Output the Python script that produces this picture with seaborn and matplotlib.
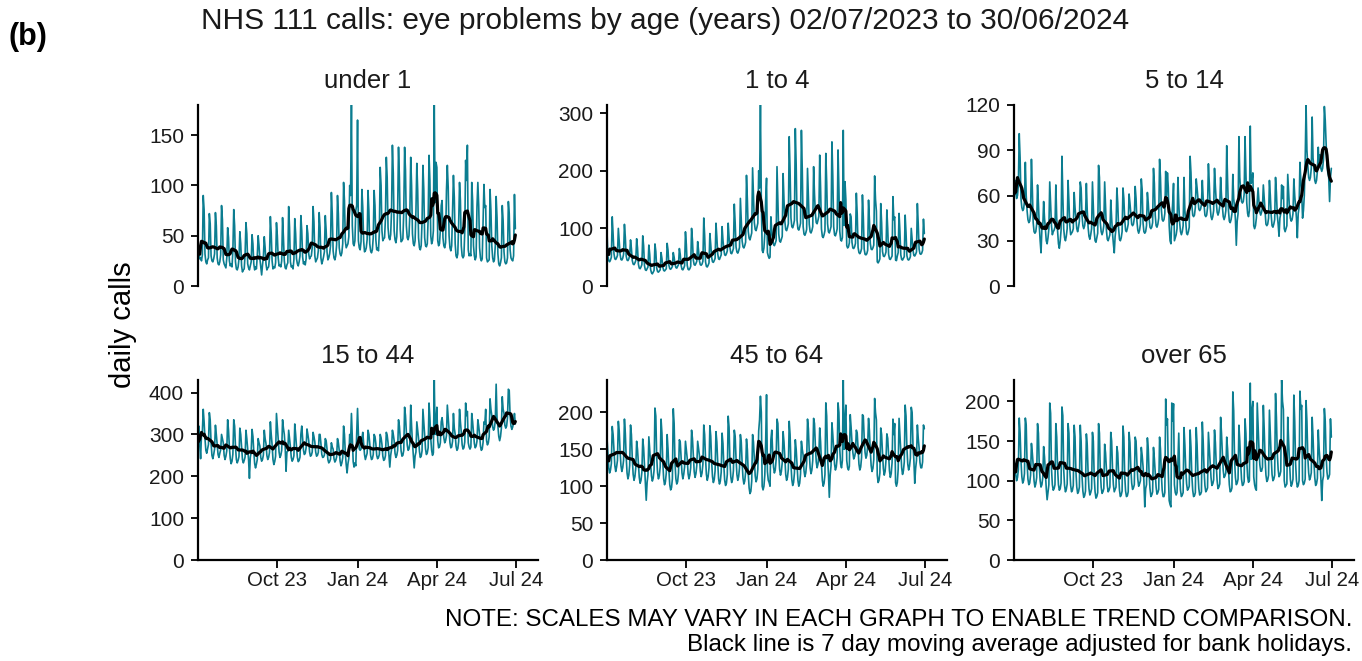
import pandas as pd
import matplotlib.pyplot as plt
import seaborn as sns

# daily NHS 111 calls for eye problems, 02/07/2023 to 30/06/2024
# one row per week (Sun..Sat), last value is Sun 30/06/2024
under_1 = [
    45, 34, 27, 28, 25, 31, 90,
    76, 32, 24, 22, 26, 28, 72,
    62, 30, 25, 24, 27, 32, 73,
    60, 28, 22, 21, 24, 31, 80,
    66, 26, 22, 20, 18, 28, 58,
    48, 25, 20, 22, 19, 35, 76,
    60, 24, 17, 16, 19, 27, 54,
    42, 20, 14, 16, 17, 31, 63,
    52, 22, 18, 16, 20, 24, 51,
    42, 22, 16, 19, 17, 30, 50,
    40, 27, 19, 11, 21, 29, 49,
    38, 22, 16, 18, 19, 28, 69,
    52, 25, 17, 19, 18, 23, 63,
    50, 28, 20, 21, 19, 25, 68,
    48, 25, 18, 17, 21, 23, 79,
    58, 24, 19, 20, 17, 26, 67,
    52, 27, 22, 20, 24, 30, 70,
    55, 29, 22, 24, 21, 27, 60,
    52, 32, 27, 29, 30, 38, 79,
    64, 30, 24, 26, 28, 35, 73,
    58, 28, 22, 25, 29, 34, 70,
    55, 34, 26, 28, 32, 40, 93,
    72, 35, 28, 26, 30, 41, 90,
    72, 38, 32, 30, 33, 42, 103,
    85, 45, 38, 40, 42, 49, 100,
    90, 180, 60, 42, 40, 45, 75,
    80, 165, 45, 38, 36, 44, 96,
    78, 45, 34, 35, 38, 46, 95,
    75, 42, 35, 33, 36, 48, 95,
    80, 46, 36, 38, 35, 53, 118,
    100, 55, 45, 47, 48, 67, 128,
    108, 58, 48, 46, 51, 74, 140,
    112, 55, 46, 43, 49, 75, 138,
    108, 56, 44, 45, 47, 73, 138,
    115, 60, 48, 46, 50, 71, 128,
    100, 52, 42, 40, 45, 75, 122,
    95, 48, 38, 36, 40, 64, 120,
    96, 48, 40, 39, 42, 67, 130,
    105, 50, 42, 45, 55, 180, 83,
    123, 118, 45, 40, 42, 56, 80,
    85, 48, 40, 38, 43, 95, 120,
    98, 50, 38, 35, 40, 77, 110,
    88, 42, 30, 28, 32, 62, 103,
    85, 40, 30, 28, 30, 54, 125,
    105, 140, 36, 30, 32, 30, 103,
    85, 40, 30, 26, 29, 79, 103,
    80, 38, 28, 25, 27, 65, 101,
    78, 80, 28, 24, 25, 26, 96,
    75, 40, 28, 24, 26, 40, 89,
    68, 32, 22, 20, 23, 28, 80,
    65, 34, 24, 22, 23, 28, 84,
    72, 36, 28, 26, 25, 30, 91,
    57,
]

age_1_4 = [
    95, 52, 44, 42, 45, 50, 120,
    90, 56, 47, 46, 49, 53, 100,
    78, 55, 46, 45, 48, 55, 107,
    85, 52, 45, 44, 47, 53, 80,
    65, 44, 38, 37, 40, 44, 82,
    66, 38, 31, 30, 33, 37, 87,
    70, 35, 28, 27, 30, 33, 71,
    55, 29, 23, 21, 24, 27, 73,
    60, 31, 25, 24, 26, 28, 58,
    48, 33, 27, 26, 28, 30, 74,
    62, 36, 30, 29, 31, 34, 58,
    50, 38, 32, 31, 34, 37, 65,
    55, 36, 29, 28, 31, 35, 94,
    72, 36, 29, 28, 30, 34, 100,
    80, 45, 37, 36, 39, 43, 77,
    62, 44, 37, 36, 38, 43, 118,
    88, 42, 34, 33, 36, 40, 91,
    72, 50, 42, 41, 44, 48, 109,
    85, 56, 47, 46, 50, 54, 103,
    80, 63, 54, 53, 56, 61, 109,
    85, 67, 57, 56, 60, 65, 142,
    110, 68, 59, 57, 61, 67, 152,
    115, 78, 68, 66, 70, 76, 192,
    150, 95, 83, 80, 86, 92, 205,
    160, 110, 98, 96, 102, 109, 200,
    170, 314, 150, 62, 58, 66, 90,
    150, 187, 58, 52, 48, 50, 120,
    95, 82, 72, 70, 74, 79, 207,
    150, 90, 78, 76, 81, 86, 195,
    150, 112, 98, 96, 101, 108, 259,
    200, 118, 103, 101, 106, 114, 273,
    210, 114, 99, 97, 102, 109, 270,
    200, 103, 90, 88, 92, 98, 204,
    155, 107, 94, 92, 96, 103, 207,
    160, 126, 110, 108, 114, 121, 227,
    170, 99, 86, 84, 89, 96, 230,
    180, 108, 94, 92, 97, 103, 250,
    190, 103, 89, 87, 92, 99, 236,
    170, 95, 80, 78, 84, 270, 105,
    181, 150, 70, 66, 68, 75, 125,
    120, 76, 66, 65, 68, 74, 161,
    125, 67, 58, 56, 59, 65, 158,
    120, 64, 55, 54, 56, 62, 149,
    115, 74, 64, 63, 66, 71, 191,
    150, 130, 42, 40, 43, 47, 143,
    110, 60, 52, 51, 54, 59, 132,
    100, 55, 47, 46, 49, 52, 155,
    115, 120, 45, 44, 52, 58, 126,
    95, 54, 46, 45, 48, 51, 123,
    92, 53, 46, 45, 47, 51, 100,
    80, 62, 53, 52, 55, 59, 143,
    108, 64, 56, 55, 57, 62, 116,
    91,
]

age_5_14 = [
    58, 70, 62, 58, 60, 67, 101,
    85, 58, 52, 50, 51, 56, 82,
    60, 50, 44, 42, 43, 48, 84,
    65, 42, 36, 35, 36, 41, 67,
    55, 40, 30, 22, 38, 39, 56,
    45, 38, 30, 28, 32, 38, 69,
    55, 40, 34, 36, 37, 39, 67,
    45, 36, 28, 25, 30, 37, 86,
    60, 38, 32, 30, 33, 38, 70,
    56, 40, 34, 35, 36, 38, 62,
    52, 45, 38, 36, 39, 43, 69,
    65, 47, 40, 38, 40, 45, 68,
    50, 39, 33, 31, 34, 38, 69,
    52, 36, 30, 29, 32, 35, 80,
    72, 42, 36, 34, 36, 40, 69,
    52, 37, 31, 30, 32, 34, 57,
    45, 35, 28, 22, 33, 38, 65,
    55, 38, 31, 30, 32, 36, 65,
    58, 44, 37, 36, 38, 41, 61,
    55, 48, 41, 40, 41, 45, 66,
    58, 43, 37, 35, 37, 41, 71,
    64, 42, 36, 35, 36, 40, 62,
    55, 45, 39, 38, 39, 42, 78,
    68, 47, 40, 39, 41, 45, 84,
    72, 51, 44, 43, 44, 48, 76,
    60, 75, 65, 40, 30, 28, 45,
    55, 68, 30, 32, 34, 38, 72,
    55, 42, 36, 34, 36, 40, 72,
    50, 42, 35, 34, 36, 39, 86,
    75, 54, 47, 46, 47, 52, 71,
    65, 58, 51, 50, 51, 54, 70,
    58, 54, 47, 46, 47, 52, 81,
    68, 53, 46, 44, 46, 50, 78,
    66, 56, 49, 47, 49, 53, 72,
    60, 53, 46, 44, 46, 50, 93,
    70, 50, 43, 42, 44, 48, 74,
    58, 52, 44, 27, 43, 48, 99,
    72, 63, 56, 55, 56, 61, 99,
    75, 55, 48, 46, 50, 106, 68,
    70, 75, 40, 38, 40, 45, 56,
    65, 56, 49, 47, 49, 52, 67,
    58, 48, 41, 40, 41, 45, 70,
    60, 47, 40, 39, 41, 44, 72,
    62, 47, 41, 33, 45, 48, 67,
    58, 66, 38, 36, 38, 40, 74,
    62, 51, 45, 43, 44, 48, 71,
    60, 52, 45, 32, 48, 52, 82,
    70, 62, 45, 50, 60, 83, 120,
    90, 80, 72, 70, 72, 78, 112,
    85, 78, 70, 68, 70, 76, 92,
    80, 87, 78, 76, 78, 84, 119,
    110, 95, 80, 75, 72, 56, 72,
    78,
]

age_15_44 = [
    290, 320, 275, 242, 300, 306, 360,
    330, 290, 262, 255, 265, 276, 352,
    335, 280, 250, 242, 252, 265, 322,
    300, 275, 252, 245, 255, 263, 300,
    290, 280, 250, 240, 248, 261, 335,
    310, 270, 242, 230, 236, 253, 335,
    320, 270, 240, 232, 238, 247, 315,
    300, 268, 240, 232, 238, 246, 310,
    290, 265, 240, 195, 245, 259, 312,
    295, 260, 230, 220, 229, 240, 290,
    280, 272, 245, 236, 240, 251, 310,
    290, 278, 250, 240, 245, 257, 330,
    300, 275, 240, 228, 235, 248, 350,
    320, 290, 258, 245, 250, 262, 335,
    315, 300, 270, 212, 258, 260, 310,
    290, 270, 245, 236, 240, 249, 325,
    300, 270, 245, 235, 238, 246, 300,
    320, 290, 262, 252, 255, 268, 313,
    300, 285, 258, 248, 250, 258, 305,
    295, 282, 258, 248, 250, 257, 300,
    300, 278, 252, 245, 246, 251, 290,
    285, 265, 240, 232, 235, 241, 280,
    270, 265, 242, 234, 238, 246, 290,
    280, 262, 236, 225, 232, 244, 320,
    300, 255, 228, 208, 230, 243, 300,
    280, 350, 290, 235, 222, 232, 225,
    300, 362, 300, 265, 262, 265, 290,
    305, 280, 252, 240, 248, 255, 310,
    300, 278, 250, 240, 242, 252, 300,
    295, 278, 250, 242, 245, 252, 300,
    292, 276, 248, 238, 240, 249, 305,
    298, 280, 252, 222, 250, 264, 310,
    300, 285, 255, 245, 250, 262, 335,
    320, 290, 260, 248, 250, 262, 365,
    345, 305, 275, 262, 265, 278, 370,
    320, 280, 248, 220, 248, 258, 330,
    310, 290, 260, 245, 248, 261, 360,
    330, 298, 265, 252, 256, 268, 375,
    340, 290, 262, 250, 256, 430, 300,
    330, 365, 285, 268, 270, 280, 330,
    340, 320, 292, 280, 285, 297, 370,
    340, 308, 280, 268, 270, 284, 350,
    315, 300, 272, 262, 266, 283, 360,
    330, 305, 275, 265, 268, 282, 375,
    345, 355, 280, 270, 265, 270, 350,
    330, 305, 278, 268, 272, 284, 335,
    320, 300, 272, 262, 265, 281, 330,
    325, 360, 285, 275, 280, 295, 385,
    360, 345, 318, 310, 315, 333, 420,
    340, 320, 295, 285, 295, 315, 390,
    360, 350, 322, 315, 320, 340, 408,
    405, 345, 320, 312, 318, 330, 350,
    325,
]

age_45_64 = [
    165, 145, 125, 118, 122, 131, 181,
    170, 148, 128, 120, 126, 135, 188,
    175, 148, 128, 120, 125, 135, 191,
    172, 140, 118, 110, 115, 128, 183,
    170, 138, 116, 108, 113, 125, 161,
    150, 132, 112, 104, 108, 119, 164,
    152, 128, 105, 81, 105, 116, 167,
    150, 135, 114, 107, 111, 122, 206,
    195, 140, 118, 110, 114, 126, 191,
    172, 132, 110, 102, 106, 118, 170,
    150, 122, 102, 95, 98, 110, 205,
    185, 132, 110, 103, 106, 118, 163,
    160, 140, 118, 110, 116, 126, 161,
    150, 138, 117, 110, 115, 125, 176,
    165, 142, 120, 112, 117, 128, 161,
    152, 142, 121, 113, 118, 130, 183,
    170, 138, 116, 108, 113, 125, 182,
    168, 134, 113, 105, 109, 121, 174,
    160, 132, 110, 103, 107, 119, 172,
    158, 128, 108, 101, 104, 116, 195,
    180, 134, 113, 105, 109, 121, 176,
    168, 138, 116, 108, 113, 125, 170,
    160, 132, 111, 103, 107, 119, 164,
    150, 118, 98, 90, 93, 107, 170,
    160, 136, 114, 106, 110, 123, 175,
    190, 222, 200, 100, 95, 100, 115,
    160, 224, 120, 108, 105, 100, 163,
    176, 146, 126, 118, 122, 136, 191,
    185, 145, 123, 115, 120, 132, 174,
    160, 138, 116, 108, 112, 123, 188,
    170, 130, 109, 101, 105, 118, 163,
    150, 128, 108, 100, 104, 117, 161,
    150, 142, 121, 113, 118, 131, 191,
    178, 146, 125, 117, 122, 135, 192,
    185, 155, 133, 125, 130, 143, 179,
    160, 130, 108, 100, 104, 116, 213,
    195, 140, 117, 85, 115, 128, 186,
    170, 150, 130, 122, 126, 139, 213,
    200, 150, 130, 125, 135, 244, 150,
    190, 210, 135, 125, 122, 127, 197,
    180, 160, 146, 137, 140, 146, 176,
    172, 150, 130, 122, 126, 139, 197,
    195, 166, 146, 138, 142, 155, 192,
    175, 148, 128, 120, 124, 136, 219,
    200, 190, 115, 105, 108, 118, 179,
    170, 145, 124, 115, 120, 135, 171,
    165, 142, 121, 112, 117, 132, 191,
    170, 185, 105, 100, 105, 123, 192,
    170, 147, 125, 116, 121, 133, 210,
    195, 152, 130, 122, 127, 138, 207,
    200, 155, 135, 104, 124, 135, 183,
    165, 152, 132, 125, 125, 133, 183,
    178,
]

over_65 = [
    120, 122, 108, 100, 104, 114, 179,
    160, 125, 105, 97, 100, 109, 179,
    170, 122, 102, 95, 97, 107, 147,
    135, 120, 100, 92, 96, 104, 172,
    160, 118, 100, 92, 95, 104, 143,
    130, 110, 90, 76, 85, 95, 198,
    185, 115, 95, 88, 90, 95, 172,
    155, 115, 95, 88, 90, 97, 193,
    182, 114, 94, 86, 89, 96, 172,
    160, 113, 94, 86, 88, 94, 170,
    155, 112, 92, 84, 86, 92, 170,
    150, 106, 87, 79, 81, 87, 159,
    145, 110, 90, 82, 85, 90, 161,
    150, 105, 86, 78, 80, 85, 172,
    160, 112, 92, 84, 86, 90, 146,
    135, 114, 94, 86, 88, 92, 161,
    150, 115, 95, 86, 89, 92, 143,
    135, 108, 88, 80, 82, 87, 169,
    155, 106, 87, 80, 81, 86, 161,
    148, 116, 97, 89, 91, 95, 155,
    150, 122, 102, 93, 96, 100, 142,
    132, 118, 100, 67, 90, 95, 154,
    140, 108, 90, 80, 82, 86, 142,
    128, 110, 92, 83, 85, 89, 155,
    140, 108, 88, 80, 80, 85, 203,
    170, 178, 110, 75, 70, 67, 198,
    175, 197, 95, 85, 82, 85, 121,
    160, 108, 88, 80, 82, 85, 167,
    145, 115, 96, 88, 90, 93, 164,
    142, 106, 88, 80, 81, 85, 167,
    145, 110, 90, 82, 83, 86, 174,
    150, 114, 94, 86, 88, 91, 161,
    142, 125, 104, 94, 96, 101, 164,
    148, 120, 100, 90, 92, 96, 180,
    160, 134, 113, 104, 106, 110, 155,
    140, 115, 95, 86, 87, 91, 212,
    188, 126, 104, 95, 97, 102, 170,
    150, 122, 102, 94, 95, 99, 178,
    160, 125, 105, 98, 100, 223, 127,
    190, 200, 105, 95, 90, 88, 198,
    170, 140, 120, 112, 112, 117, 195,
    165, 128, 107, 99, 101, 107, 189,
    160, 130, 108, 100, 102, 107, 210,
    180, 135, 114, 105, 107, 112, 227,
    200, 190, 100, 92, 94, 96, 180,
    150, 124, 102, 93, 96, 102, 208,
    175, 122, 100, 92, 94, 100, 213,
    190, 195, 100, 95, 97, 102, 201,
    175, 130, 110, 101, 104, 110, 180,
    155, 124, 104, 94, 96, 103, 164,
    140, 125, 103, 75, 100, 106, 191,
    175, 132, 111, 102, 104, 108, 178,
    155,
]

panel_titles = ['under 1', '1 to 4', '5 to 14', '15 to 44', '45 to 64', 'over 65']
panel_values = [under_1, age_1_4, age_5_14, age_15_44, age_45_64, over_65]
panel_yticks = [
    [0, 50, 100, 150],
    [0, 100, 200, 300],
    [0, 30, 60, 90, 120],
    [0, 100, 200, 300, 400],
    [0, 50, 100, 150, 200],
    [0, 50, 100, 150, 200],
]
x_ticks = ['2023-10-01', '2024-01-01', '2024-04-01', '2024-07-01']

dates = pd.date_range('2023-07-02', '2024-06-30', freq='D')

sns.set_theme(style='ticks')
plt.rcParams['font.family'] = ['Liberation Sans', 'DejaVu Sans']

teal = '#0b7d90'
W, H = 1362, 661
fig = plt.figure(figsize=(13.62, 6.61), dpi=100)

col_left = [198, 607, 1014]
row_top = [105, 380]
row_bottom = [286, 560]
ax_w = 340

for i, (title, vals, yt) in enumerate(zip(panel_titles, panel_values, panel_yticks)):
    r, c = divmod(i, 3)
    l = col_left[c] / W
    b = 1 - row_bottom[r] / H
    h = (row_bottom[r] - row_top[r]) / H
    ax = fig.add_axes([l, b, ax_w / W, h])

    df = pd.DataFrame({'date': dates, 'calls': vals})
    df['ma7'] = df['calls'].rolling(7, center=True, min_periods=1).mean()

    sns.lineplot(data=df, x='date', y='calls', ax=ax, color=teal, lw=1.2)
    sns.lineplot(data=df, x='date', y='ma7', ax=ax, color='black', lw=2.3)

    ax.set_xlim(pd.Timestamp('2023-07-02'), pd.Timestamp('2024-07-26'))
    ax.set_ylim(0, max(vals))
    ax.set_yticks(yt)
    ax.set_xticks(pd.to_datetime(x_ticks))
    ax.set_xticklabels(pd.to_datetime(x_ticks).strftime('%b %y'))
    ax.set_xlabel('')
    ax.set_ylabel('')

    sns.despine(ax=ax)
    ax.spines['left'].set_linewidth(1.6)
    ax.spines['left'].set_color('black')
    ax.tick_params(axis='y', length=5, width=1.3, labelsize=15, pad=5,
                   color='black', labelcolor='#1a1a1a')
    if r == 0:
        ax.spines['bottom'].set_visible(False)
        ax.tick_params(axis='x', bottom=False, labelbottom=False)
    else:
        ax.spines['bottom'].set_linewidth(1.6)
        ax.spines['bottom'].set_color('black')
        ax.tick_params(axis='x', length=6, width=1.3, labelsize=14.7, pad=2,
                       color='black', labelcolor='#1a1a1a')

    fig.text((col_left[c] + ax_w / 2) / W, 1 - (row_top[r] - 24) / H, title,
             ha='center', va='center', fontsize=18.5, color='#1a1a1a')

fig.text(665 / W, 1 - 21 / H,
         'NHS 111 calls: eye problems by age (years) 02/07/2023 to 30/06/2024',
         ha='center', va='center', fontsize=21.5, color='#1a1a1a')
fig.text(8 / W, 1 - 37 / H, '(b)', ha='left', va='center', fontsize=22,
         fontweight='bold', color='black')
fig.text(123 / W, 1 - 325 / H, 'daily calls', rotation=90, ha='center',
         va='center', fontsize=21, color='black')

fig.text(1352 / W, 1 - 620 / H,
         'NOTE: SCALES MAY VARY IN EACH GRAPH TO ENABLE TREND COMPARISON.',
         ha='right', va='center', fontsize=17.4, color='black')
fig.text(1352 / W, 1 - 645 / H,
         'Black line is 7 day moving average adjusted for bank holidays.',
         ha='right', va='center', fontsize=17.4, color='black')

fig.savefig('out.png', dpi=100)
